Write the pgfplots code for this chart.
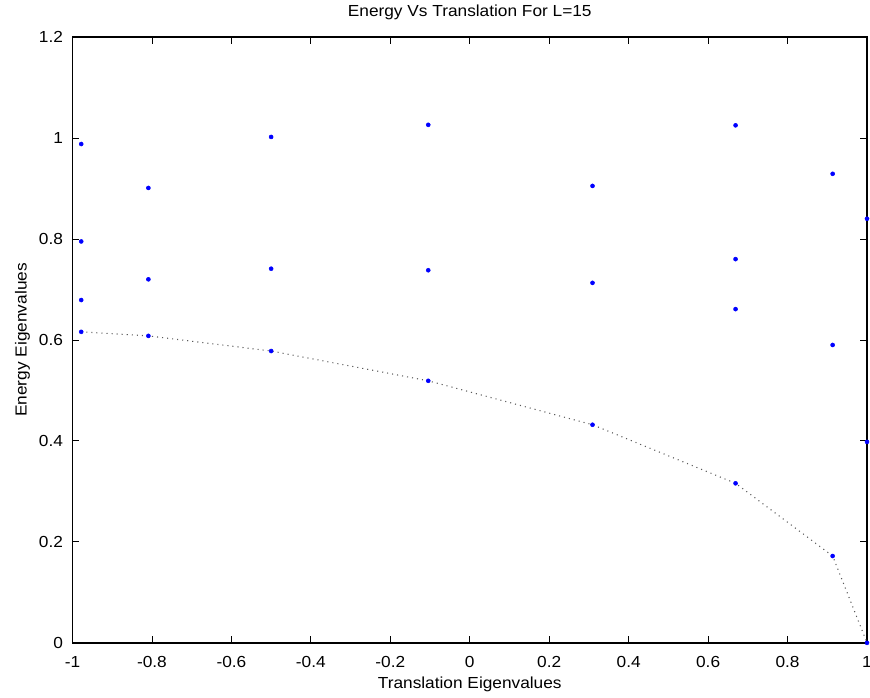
\documentclass[border=0pt]{standalone}
\usepackage{pgfplots}
\pgfplotsset{compat=1.18}
\usepackage{fontspec}
\setmainfont{Liberation Sans}[FakeStretch=1.08]

% energy levels per translation eigenvalue, L=15
\pgfplotstableread{
x        y
-0.9781  0.988
-0.9781  0.795
-0.9781  0.679
-0.9781  0.616
-0.8090  0.901
-0.8090  0.720
-0.8090  0.608
-0.5000  1.002
-0.5000  0.741
-0.5000  0.578
-0.1045  1.026
-0.1045  0.738
-0.1045  0.519
 0.3090  0.905
 0.3090  0.713
 0.3090  0.432
 0.6691  1.025
 0.6691  0.760
 0.6691  0.661
 0.6691  0.316
 0.9135  0.929
 0.9135  0.590
 0.9135  0.172
 1.0000  0.840
 1.0000  0.398
 1.0000  0.000
}\levels

% lowest level (ground state line)
\pgfplotstableread{
x        y
-0.9781  0.616
-0.8090  0.608
-0.5000  0.578
-0.1045  0.519
 0.3090  0.432
 0.6691  0.316
 0.9135  0.172
 1.0000  0.000
}\lowest

\begin{document}
\begin{tikzpicture}
\begin{axis}[
    width=596pt, height=454.5pt, scale only axis,
    xmin=-1, xmax=1, ymin=0, ymax=1.2,
    xtick={-1,-0.8,-0.6,-0.4,-0.2,0,0.2,0.4,0.6,0.8,1},
    ytick={0,0.2,0.4,0.6,0.8,1,1.2},
    tick align=inside,
    major tick length=5pt,
    tick style={black, line width=0.6pt},
    axis line style={line width=1pt},
    /pgf/number format/assume math mode=true,
    ticklabel style={font=\fontsize{12}{14}\selectfont, inner sep=0pt},
    xticklabel style={anchor=center, yshift=-14.5pt},
    yticklabel style={anchor=east, xshift=-7pt},
    label style={font=\fontsize{12}{14}\selectfont},
    title style={font=\fontsize{12}{14}\selectfont,
        at={(axis description cs:0.5,1.028)}, anchor=center},
    xlabel style={at={(axis description cs:0.5,-0.068)}, anchor=center},
    ylabel style={at={(axis description cs:-0.063,0.5)}, anchor=center},
    title={Energy Vs Translation For L=15},
    xlabel={Translation Eigenvalues},
    ylabel={Energy Eigenvalues},
    clip=false,
]
\addplot[gray!70!black, dash pattern=on 0.8pt off 3pt, line width=0.8pt] table {\lowest};
\addplot[only marks, mark=*, mark size=1.5pt, blue, mark options={draw=blue, fill=blue}] table {\levels};
\end{axis}
\pgfresetboundingbox
\path[use as bounding box] (current axis.south west) ++(-54.4pt,-41.25pt)
    rectangle ([shift={(2.25pt,27.75pt)}]current axis.north east);
\end{tikzpicture}
\end{document}
